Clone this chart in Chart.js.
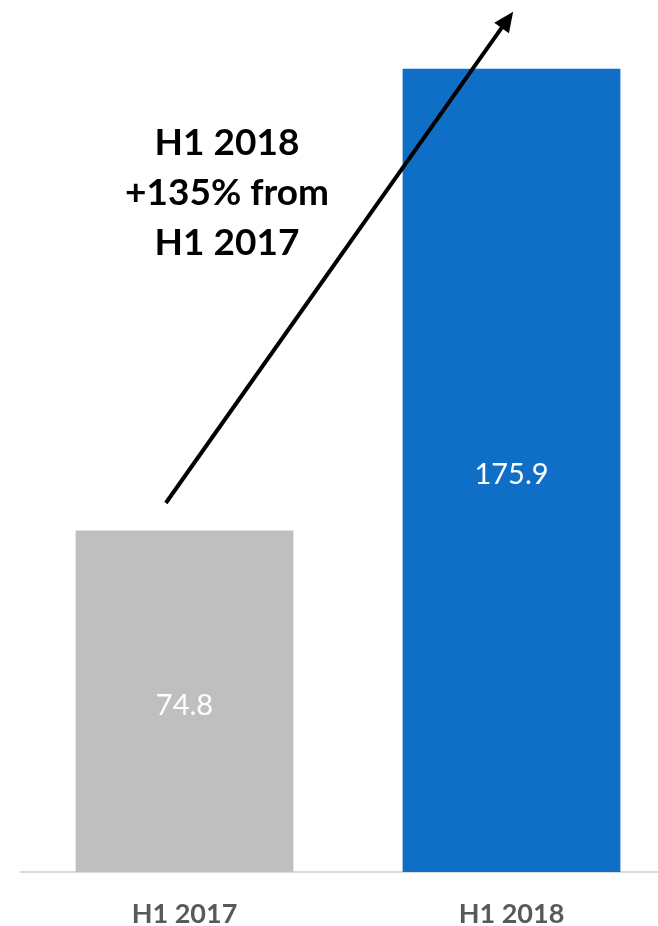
<!DOCTYPE html>
<html>
<head>
<meta charset="utf-8">
<script src="https://cdn.jsdelivr.net/npm/chart.js@4"></script>
<style>
   html, body { margin: 0; padding: 0; background: #fff; overflow: hidden; }
   #wrap { position: relative; width: 680px; height: 958px; }
</style>
</head>
<body>
<div id="wrap"><canvas id="_dm-growthChart"></canvas></div>
<script>
   // Data
   // ----------------------------------------------
   const categories  = [ 'H1 2017', 'H1 2018' ];
   const values      = [ 74.8, 175.9 ];
   const valueLabels = [ '74.8', '175.9' ];
   const barColors   = [ '#bfbfbf', '#0f6fc6' ];
   const noteLines   = [ 'H1 2018', '+135% from', 'H1 2017' ];

   const labelFont = '"Lato", "Open Sans", sans-serif';

   // Value labels inside the bars
   // ----------------------------------------------
   const barLabels = {
      id: 'barLabels',
      afterDatasetsDraw( chart ) {
         const { ctx } = chart;
         const meta = chart.getDatasetMeta( 0 );
         ctx.save();
         ctx.fillStyle = '#ffffff';
         ctx.font = '29px ' + labelFont;
         ctx.textAlign = 'center';
         ctx.textBaseline = 'middle';
         meta.data.forEach( ( bar, i ) => {
            const p = bar.getCenterPoint();
            ctx.fillText( valueLabels[i], p.x, p.y + 4 );
         });
         ctx.restore();
      }
   };

   // Growth arrow + note
   // ----------------------------------------------
   const growthNote = {
      id: 'growthNote',
      afterDraw( chart ) {
         const { ctx, scales: { x, y } } = chart;
         const x0 = x.getPixelForValue( -0.057 ), y0 = y.getPixelForValue( 80.8 );
         const x1 = x.getPixelForValue( 1.005 ),  y1 = y.getPixelForValue( 188.4 );
         const ang = Math.atan2( y1 - y0, x1 - x0 );
         const head = 20, half = 9;

         ctx.save();
         ctx.strokeStyle = '#000';
         ctx.fillStyle = '#000';
         ctx.lineWidth = 4;
         ctx.beginPath();
         ctx.moveTo( x0, y0 );
         ctx.lineTo( x1 - Math.cos( ang ) * head * 0.8, y1 - Math.sin( ang ) * head * 0.8 );
         ctx.stroke();

         ctx.beginPath();
         ctx.moveTo( x1, y1 );
         ctx.lineTo( x1 - Math.cos( ang ) * head - Math.sin( ang ) * half, y1 - Math.sin( ang ) * head + Math.cos( ang ) * half );
         ctx.lineTo( x1 - Math.cos( ang ) * head + Math.sin( ang ) * half, y1 - Math.sin( ang ) * head - Math.cos( ang ) * half );
         ctx.closePath();
         ctx.fill();

         // note text
         const cx = x.getPixelForValue( 0.13 );
         const cy = y.getPixelForValue( 148.7 );
         ctx.font = 'bold 37px ' + labelFont;
         ctx.textAlign = 'center';
         ctx.textBaseline = 'middle';
         noteLines.forEach( ( t, i ) => {
            ctx.fillText( t, cx, cy + ( i - 1 ) * 50 );
         });
         ctx.restore();
      }
   };

   const growthChart = new Chart( document.getElementById('_dm-growthChart'), {
      type: 'bar',
      data: {
         labels: categories,
         datasets: [
            {
               data: values,
               backgroundColor: barColors,
               borderWidth: 0,
               barPercentage: 1,
               categoryPercentage: 0.666
            }
         ]
      },
      options: {
         responsive: true,
         maintainAspectRatio: false,
         animation: false,
         layout: {
            padding: { left: 21, right: 5, top: 50, bottom: 1 }
         },
         plugins: {
            legend: { display: false },
            tooltip: { enabled: false }
         },
         scales: {
            y: {
               display: false,
               min: 0,
               max: 180
            },
            x: {
               grid: {
                  display: false,
                  drawTicks: false
               },
               border: {
                  display: true,
                  color: '#d9d9d9',
                  width: 2
               },
               ticks: {
                  padding: 29,
                  color: '#595959',
                  font: { family: labelFont, size: 27, weight: 'bold', lineHeight: 1 }
               }
            }
         }
      },
      plugins: [ barLabels, growthNote ]
   });
</script>
</body>
</html>
